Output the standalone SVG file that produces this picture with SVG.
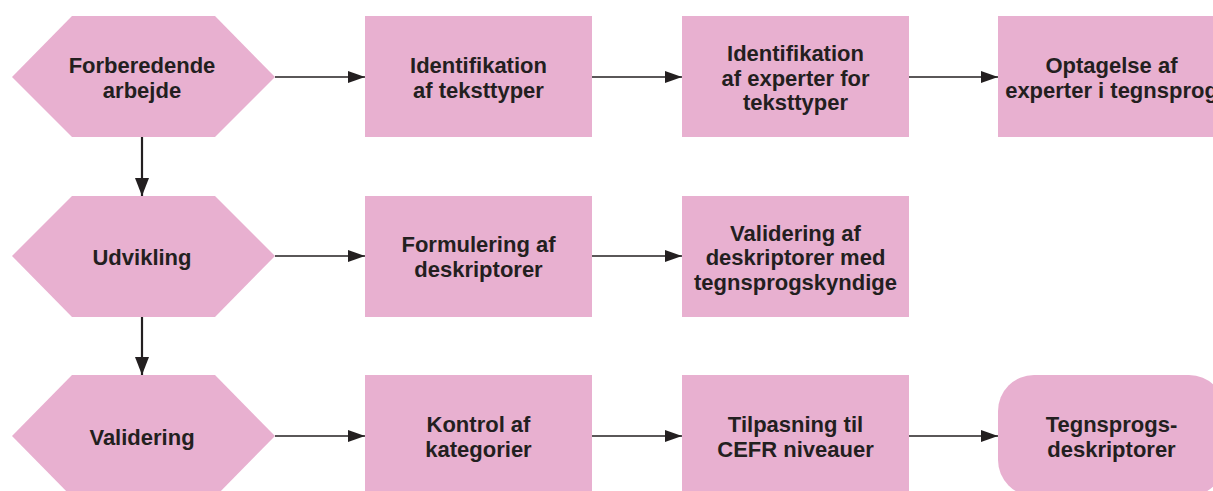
<svg xmlns="http://www.w3.org/2000/svg" width="1213" height="491" viewBox="0 0 1213 491">
  <defs>
    <style>
      .shape { fill: #e8b0d0; }
      .lbl { font-family: "Liberation Sans", Arial, sans-serif; font-weight: bold; font-size: 22px; fill: #231f20; text-anchor: middle; }
      .h { stroke: #231f20; stroke-width: 1.5; fill: none; }
      .v { stroke: #231f20; stroke-width: 2.2; fill: none; }
    </style>
    <marker id="ah" viewBox="0 0 17 12" refX="17" refY="6" markerWidth="17" markerHeight="12" markerUnits="userSpaceOnUse" orient="auto">
      <path d="M0,0 L17,6 L0,12 Z" fill="#231f20"/>
    </marker>
    <marker id="av" viewBox="0 0 18 14" refX="18" refY="7" markerWidth="18" markerHeight="14" markerUnits="userSpaceOnUse" orient="auto">
      <path d="M0,0 L18,7 L0,14 Z" fill="#231f20"/>
    </marker>
  </defs>
  <rect width="1213" height="491" fill="#ffffff"/>

  <g id="connectors">
    <!-- row 1 -->
    <line class="h" x1="275" y1="77" x2="365" y2="77" marker-end="url(#ah)"/>
    <line class="h" x1="592" y1="77" x2="682" y2="77" marker-end="url(#ah)"/>
    <line class="h" x1="909" y1="77" x2="998" y2="77" marker-end="url(#ah)"/>
    <!-- row 2 -->
    <line class="h" x1="275" y1="256" x2="365" y2="256" marker-end="url(#ah)"/>
    <line class="h" x1="592" y1="256" x2="682" y2="256" marker-end="url(#ah)"/>
    <!-- row 3 -->
    <line class="h" x1="275" y1="436" x2="365" y2="436" marker-end="url(#ah)"/>
    <line class="h" x1="592" y1="436" x2="682" y2="436" marker-end="url(#ah)"/>
    <line class="h" x1="909" y1="436" x2="998" y2="436" marker-end="url(#ah)"/>
    <!-- phase links -->
    <line class="v" x1="142" y1="137" x2="142" y2="196" marker-end="url(#av)"/>
    <line class="v" x1="142" y1="317" x2="142" y2="375" marker-end="url(#av)"/>
  </g>

  <g id="forberedende">
    <polygon class="shape" points="12,77 72,16 215,16 275,77 215,137 72,137"/>
    <text class="lbl" x="142" y="73">Forberedende</text>
    <text class="lbl" x="142" y="98">arbejde</text>
  </g>
  <g id="identifikation-teksttyper">
    <rect class="shape" x="365" y="16" width="227" height="121"/>
    <text class="lbl" x="478.5" y="73">Identifikation</text>
    <text class="lbl" x="478.5" y="98">af teksttyper</text>
  </g>
  <g id="identifikation-experter">
    <rect class="shape" x="682" y="16" width="227" height="121"/>
    <text class="lbl" x="795.5" y="61">Identifikation</text>
    <text class="lbl" x="795.5" y="85.5">af experter for</text>
    <text class="lbl" x="795.5" y="110">teksttyper</text>
  </g>
  <g id="optagelse">
    <rect class="shape" x="998" y="16" width="227" height="121"/>
    <text class="lbl" x="1111.5" y="73">Optagelse af</text>
    <text class="lbl" x="1111.5" y="98">experter i tegnsprog</text>
  </g>

  <g id="udvikling">
    <polygon class="shape" points="12,256 72,196 215,196 275,256 215,317 72,317"/>
    <text class="lbl" x="142" y="264.5">Udvikling</text>
  </g>
  <g id="formulering">
    <rect class="shape" x="365" y="196" width="227" height="121"/>
    <text class="lbl" x="478.5" y="252">Formulering af</text>
    <text class="lbl" x="478.5" y="277">deskriptorer</text>
  </g>
  <g id="validering-deskriptorer">
    <rect class="shape" x="682" y="196" width="227" height="121"/>
    <text class="lbl" x="795.5" y="240.5">Validering af</text>
    <text class="lbl" x="795.5" y="265">deskriptorer med</text>
    <text class="lbl" x="795.5" y="289.5">tegnsprogskyndige</text>
  </g>

  <g id="validering">
    <polygon class="shape" points="12,436 72,375 215,375 275,436 215,497 72,497"/>
    <text class="lbl" x="142" y="444.5">Validering</text>
  </g>
  <g id="kontrol">
    <rect class="shape" x="365" y="375" width="227" height="121"/>
    <text class="lbl" x="478.5" y="432">Kontrol af</text>
    <text class="lbl" x="478.5" y="457">kategorier</text>
  </g>
  <g id="tilpasning">
    <rect class="shape" x="682" y="375" width="227" height="121"/>
    <text class="lbl" x="795.5" y="432">Tilpasning til</text>
    <text class="lbl" x="795.5" y="457">CEFR niveauer</text>
  </g>
  <g id="tegnsprogsdeskriptorer">
    <rect class="shape" x="998" y="375" width="227" height="121" rx="36" ry="36"/>
    <text class="lbl" x="1111.5" y="432">Tegnsprogs-</text>
    <text class="lbl" x="1111.5" y="457">deskriptorer</text>
  </g>
</svg>
